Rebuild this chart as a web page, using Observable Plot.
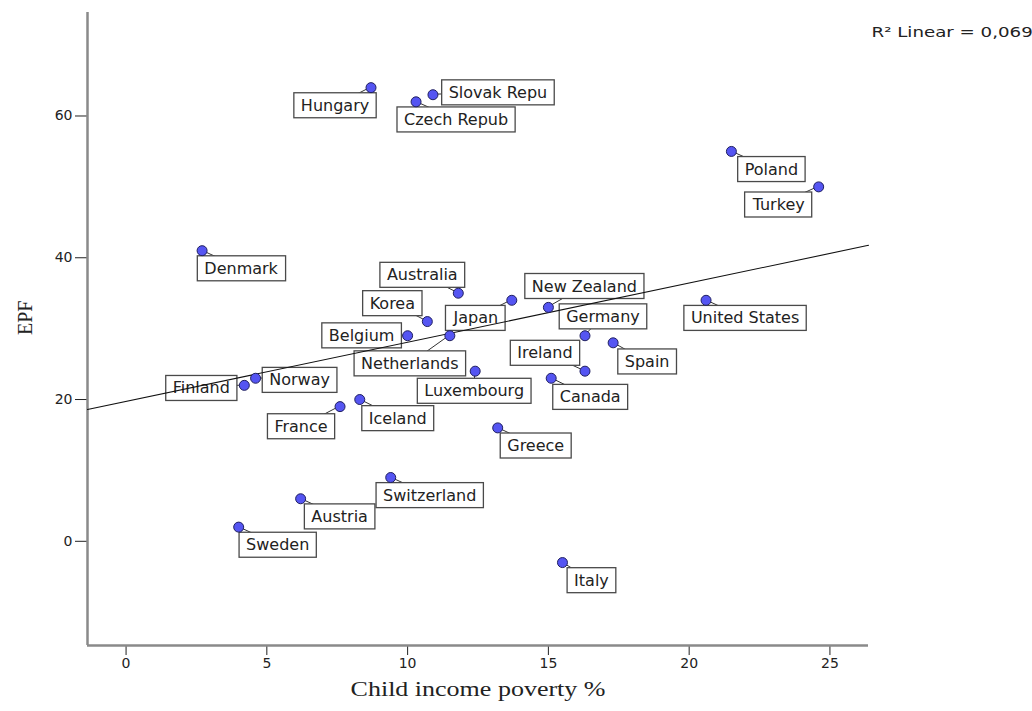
<!DOCTYPE html>
<html><head><meta charset="utf-8">
<script src="https://cdn.jsdelivr.net/npm/d3@7"></script>
<script src="https://cdn.jsdelivr.net/npm/@observablehq/plot@0.6"></script>
<style>html,body{margin:0;padding:0;background:#fff;overflow:hidden} svg{display:block}</style>
</head><body><div id="chart"></div>
<script>
// ---- data ----
const countries = ["Hungary","Slovak Repu","Czech Repub","Poland","Turkey","Denmark","Australia","Japan","New Zealand","Korea","Belgium","Netherlands","Germany","Spain","United States","Luxembourg","Ireland","Canada","Finland","Norway","France","Iceland","Greece","Switzerland","Austria","Sweden","Italy"];
const poverty = [8.7,10.9,10.3,21.5,24.6,2.7,11.8,13.7,15.0,10.7,10.0,11.5,16.3,17.3,20.6,12.4,16.3,15.1,4.2,4.6,7.6,8.3,13.2,9.4,6.2,4.0,15.5];
const epf     = [64,63,62,55,50,41,35,34,33,31,29,29,29,28,34,24,24,23,22,23,19,20,16,9,6,2,-3];
const xTicks = [0,5,10,15,20,25];
const yTicks = [0,20,40,60];
const xDomain = [-1.37, 26.37];
const yDomain = [-14.7, 74.6];
const xTitle = "Child income poverty %";
const yTitle = "EPF";
const r2Text = "R\u00B2 Linear = 0,069";
// ---- label placement (pixel offsets of each label from its point) ----
const labelDx = [-36,65,40,40,-40,39,-36,-36,36,-35,-46,-40,18,34,39,-1,-40,39,-43,44,-39,38,38,39,39,39,29];
const labelDy = [18,-2,18,18,18,18,-18,18,-21,-18,0,28,-19,19,18,20,-18,19,3,2,20,19,18,18,18,18,18];

const data = countries.map((c,i)=>({country:c, x:poverty[i], y:epf[i]}));
const mx = d3.mean(data, d=>d.x), my = d3.mean(data, d=>d.y);
const slope = d3.sum(data, d=>(d.x-mx)*(d.y-my)) / d3.sum(data, d=>(d.x-mx)**2);
const intercept = my - slope*mx;
const fit = xDomain.map(x=>({x, y: intercept + slope*x}));

const labelMarks = data.map((d,i)=>Plot.text([d], {
  x:"x", y:"y", text:"country", dx:labelDx[i], dy:labelDy[i],
  fontFamily:"DejaVu Sans", fontSize:16, fill:"#222"
}));

const plot = Plot.plot({
  width:1032, height:711, marginLeft:87, marginRight:164, marginTop:12, marginBottom:66,
  style:{fontFamily:"DejaVu Sans", fontSize:"14px", color:"#222", background:"#fff"},
  x:{domain:xDomain, ticks:xTicks, tickSize:10, tickPadding:3, label:null},
  y:{domain:yDomain, ticks:yTicks, tickSize:12, tickPadding:3, label:null},
  marks:[
    Plot.ruleX([xDomain[0]], {stroke:"#8a8a8a", strokeWidth:2.5}),
    Plot.ruleY([yDomain[0]], {stroke:"#8a8a8a", strokeWidth:2.5}),
    ...labelMarks,
    Plot.line(fit, {x:"x", y:"y", stroke:"#111", strokeWidth:1.1}),
    Plot.dot(data, {x:"x", y:"y", r:5, fill:"#5555f2", stroke:"#202060", strokeWidth:1}),
    Plot.text([r2Text], {frameAnchor:"top-right", text:d=>d, textAnchor:"start", dx:3, dy:15, fontSize:14, fontFamily:"DejaVu Sans", fill:"#222"}),
    Plot.text([xTitle], {frameAnchor:"bottom", text:d=>d, dy:50, fontFamily:"Liberation Serif", fontSize:20, fill:"#222"}),
    Plot.text([yTitle], {frameAnchor:"left", text:d=>d, dx:-62, dy:6, rotate:-90, fontFamily:"Liberation Serif", fontSize:20, fill:"#222"})
  ]
});
document.getElementById("chart").append(plot);

// boxes and leader lines behind the labels
const ns = "http://www.w3.org/2000/svg";
const svgRect = plot.getBoundingClientRect();
const xs = plot.scale("x"), ys = plot.scale("y");
const allTexts = Array.from(plot.querySelectorAll("text"));
const findText = s => allTexts.find(t => t.textContent === s);
const topOf = el => { while (el.parentNode && el.parentNode !== plot) el = el.parentNode; return el; };
const labelTexts = countries.map(findText);
const under = document.createElementNS(ns,"g");
const leaders = document.createElementNS(ns,"g");
const boxes = document.createElementNS(ns,"g");
under.append(leaders, boxes);
plot.insertBefore(under, topOf(labelTexts[0]));
const padX = 7, padY = 3;
labelTexts.forEach((t,i)=>{
  const b = t.getBoundingClientRect();
  const x0 = b.left - svgRect.left, y0 = b.top - svgRect.top;
  const r = document.createElementNS(ns,"rect");
  r.setAttribute("x", x0-padX); r.setAttribute("y", y0-padY);
  r.setAttribute("width", b.width+2*padX); r.setAttribute("height", b.height+2*padY);
  r.setAttribute("fill","#fff"); r.setAttribute("stroke","#4a4a4a"); r.setAttribute("stroke-width","1.3");
  boxes.append(r);
  const l = document.createElementNS(ns,"line");
  l.setAttribute("x1", xs.apply(data[i].x)); l.setAttribute("y1", ys.apply(data[i].y));
  l.setAttribute("x2", x0+b.width/2); l.setAttribute("y2", y0+b.height/2);
  l.setAttribute("stroke","#333"); l.setAttribute("stroke-width","1");
  leaders.append(l);
});
// the reference's titles are drawn horizontally wider than the font's natural width
const stretch = 1.3;
[findText(xTitle), findText(r2Text)].forEach(t=>{
  if (!t) return;
  const w = t.getComputedTextLength();
  t.setAttribute("textLength", w*stretch);
  t.setAttribute("lengthAdjust","spacingAndGlyphs");
});
</script>
</body></html>
